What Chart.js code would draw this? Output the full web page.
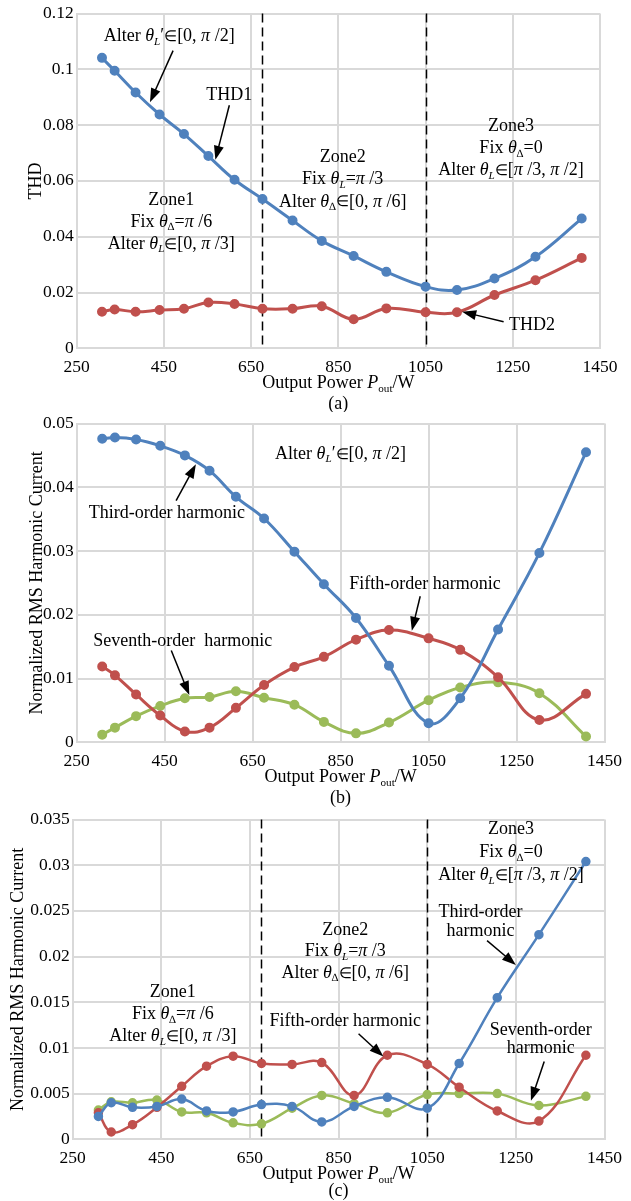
<!DOCTYPE html>
<html>
<head>
<meta charset="utf-8">
<script src="https://cdn.jsdelivr.net/npm/chart.js@4.4.0/dist/chart.umd.min.js"></script>
<style>
  body { margin: 0; background: #fff; width: 631px; height: 1201px; position: relative; overflow: hidden; }
  .box { position: absolute; left: 0; width: 631px; }
</style>
</head>
<body>
<div class="box" style="top:0;height:412px"><canvas id="chartA"></canvas></div>
<div class="box" style="top:410px;height:402px"><canvas id="chartB"></canvas></div>
<div class="box" style="top:806px;height:395px"><canvas id="chartC"></canvas></div>
<script>
// output power, W (same sweep for all three plots)
const power = [308, 337, 385, 440, 496, 552, 612, 676, 745, 812, 885, 960, 1050, 1122, 1208, 1302, 1408];

// (a) THD
const thd1 = [0.1041, 0.0995, 0.0917, 0.0838, 0.0768, 0.0689, 0.0604, 0.0535, 0.0458, 0.0385, 0.0331, 0.0274, 0.0221, 0.0209, 0.0250, 0.0328, 0.0465];
const thd2 = [0.0131, 0.0139, 0.0131, 0.0137, 0.0142, 0.0164, 0.0159, 0.0142, 0.0142, 0.0151, 0.0104, 0.0143, 0.0129, 0.0129, 0.0191, 0.0244, 0.0324];

// (b) alter theta_L'
const thirdB = [0.0476, 0.0478, 0.0475, 0.0465, 0.0450, 0.0426, 0.0385, 0.0351, 0.0299, 0.0248, 0.0195, 0.0120, 0.0030, 0.0069, 0.0177, 0.0297, 0.0455];
const fifthB = [0.0119, 0.0105, 0.0075, 0.0042, 0.0017, 0.0023, 0.0054, 0.0090, 0.0118, 0.0134, 0.0161, 0.0176, 0.0163, 0.0145, 0.0102, 0.0035, 0.0076];
const seventhB = [0.0012, 0.0023, 0.0041, 0.0057, 0.0069, 0.0071, 0.0080, 0.0070, 0.0059, 0.0032, 0.0014, 0.0031, 0.0066, 0.0086, 0.0094, 0.0077, 0.0009];

// (c) zones
const thirdC = [0.0025, 0.0040, 0.0035, 0.0036, 0.0044, 0.0031, 0.0030, 0.0038, 0.0036, 0.0019, 0.0036, 0.0046, 0.0034, 0.0083, 0.0155, 0.0224, 0.0304];
const fifthC = [0.0029, 0.0008, 0.0016, 0.0035, 0.0058, 0.0080, 0.0091, 0.0083, 0.0082, 0.0084, 0.0048, 0.0092, 0.0082, 0.0057, 0.0031, 0.0020, 0.0092];
const seventhC = [0.0032, 0.0041, 0.0040, 0.0043, 0.0030, 0.0029, 0.0018, 0.0017, 0.0034, 0.0048, 0.0039, 0.0029, 0.0049, 0.0050, 0.0050, 0.0037, 0.0047];

const xTicks = [250, 450, 650, 850, 1050, 1250, 1450];
const zoneBounds = [676, 1050];

const BLUE = '#4f81bd', RED = '#c0504d', GREEN = '#9bbb59', GRID = '#d9d9d9';
const FONT = '"Liberation Serif", "Times New Roman", serif';

// *x* italic, _x_ italic subscript, ^x^ upright subscript, ∈ drawn a bit smaller
const parse = (s) => s.split(/(\*[^*]+\*|_[^_]+_|\^[^^]+\^|∈)/).filter(Boolean).map(t => {
  if (t === '∈') return [t, 'm'];
  if (t[0] === '*') return [t.slice(1, -1), 'i'];
  if (t[0] === '_') return [t.slice(1, -1), 's'];
  if (t[0] === '^') return [t.slice(1, -1), 'u'];
  return [t, ''];
});

const fontOf = (st, size) => {
  if (st === 'm') return `${size * 0.82}px ${FONT}`;
  const sub = st === 's' || st === 'u';
  const it = st === 'i' || st === 's';
  return `${it ? 'italic ' : ''}${sub ? size * 0.62 : size}px ${FONT}`;
};

const drawRich = (ctx, text, x, y, size, align = 'center') => {
  const parts = parse(text);
  let w = 0;
  parts.forEach(([t, s]) => { ctx.font = fontOf(s, size); w += ctx.measureText(t).width; });
  let cx = align === 'center' ? x - w / 2 : align === 'right' ? x - w : x;
  ctx.textAlign = 'left';
  ctx.textBaseline = 'middle';
  parts.forEach(([t, s]) => {
    ctx.font = fontOf(s, size);
    const dy = (s === 's' || s === 'u') ? size * 0.3 : s === 'm' ? size * 0.04 : 0;
    ctx.fillText(t, cx, y + dy);
    cx += ctx.measureText(t).width;
  });
};

const arrow = (ctx, x1, y1, x2, y2) => {
  const a = Math.atan2(y2 - y1, x2 - x1), L = 14, W = 5;
  ctx.beginPath();
  ctx.moveTo(x1, y1);
  ctx.lineTo(x2 - L * 0.8 * Math.cos(a), y2 - L * 0.8 * Math.sin(a));
  ctx.stroke();
  ctx.beginPath();
  ctx.moveTo(x2, y2);
  ctx.lineTo(x2 - L * Math.cos(a) + W * Math.sin(a), y2 - L * Math.sin(a) - W * Math.cos(a));
  ctx.lineTo(x2 - L * Math.cos(a) - W * Math.sin(a), y2 - L * Math.sin(a) + W * Math.cos(a));
  ctx.closePath();
  ctx.fill();
};

const notesPlugin = {
  id: 'notes',
  beforeDatasetsDraw(chart) {
    const o = chart.options.plugins.notes;
    if (!o.zones) return;
    const { ctx, chartArea, scales } = chart;
    ctx.save();
    ctx.strokeStyle = '#000';
    ctx.lineWidth = 1.5;
    ctx.setLineDash([9, 5]);
    zoneBounds.forEach(v => {
      const px = Math.round(scales.x.getPixelForValue(v)) + 0.5;
      ctx.beginPath();
      ctx.moveTo(px, chartArea.top);
      ctx.lineTo(px, chartArea.bottom);
      ctx.stroke();
    });
    ctx.restore();
  },
  afterDatasetsDraw(chart) {
    const o = chart.options.plugins.notes;
    const { ctx, chartArea, scales } = chart;
    const X = v => scales.x.getPixelForValue(v), Y = v => scales.y.getPixelForValue(v);
    ctx.save();
    ctx.fillStyle = '#000';
    ctx.strokeStyle = '#000';
    ctx.lineWidth = 1.5;
    o.texts.forEach(t => {
      t.lines.forEach((line, i) => drawRich(ctx, line, X(t.x), Y(t.y) + i * (t.gap || 22), 18, t.align));
    });
    o.arrows.forEach(a => arrow(ctx, X(a[0]), Y(a[1]), X(a[2]), Y(a[3])));
    const mid = (chartArea.left + chartArea.right) / 2;
    drawRich(ctx, 'Output Power *P*^out^/W', mid, chartArea.bottom + 35, 18);
    drawRich(ctx, o.caption, mid, chartArea.bottom + o.captionGap, 18);
    ctx.translate(o.yTitleX, (chartArea.top + chartArea.bottom) / 2);
    ctx.rotate(-Math.PI / 2);
    drawRich(ctx, o.yTitle, 0, 0, 18);
    ctx.restore();
  }
};

const makeChart = (id, cfg) => new Chart(document.getElementById(id), {
  type: 'line',
  data: {
    datasets: cfg.series.map(s => ({
      data: power.map((x, i) => ({ x, y: s.values[i] })),
      borderColor: s.color,
      backgroundColor: s.color,
      borderWidth: cfg.lineWidth,
      pointRadius: 3.5,
      pointHoverRadius: 3.5,
      tension: 0.4
    }))
  },
  options: {
    responsive: true,
    maintainAspectRatio: false,
    animation: false,
    layout: { padding: { top: cfg.area.top, right: 631 - cfg.area.right, left: 0, bottom: 0 } },
    plugins: {
      legend: { display: false },
      tooltip: { enabled: false },
      notes: cfg.notes
    },
    scales: {
      x: {
        type: 'linear', min: 250, max: 1450,
        afterBuildTicks: s => { s.ticks = xTicks.map(v => ({ value: v })); },
        ticks: {
          autoSkip: false, maxRotation: 0, padding: 9, color: '#000', font: { family: FONT, size: 17.5 },
          callback: v => String(v)
        },
        grid: { color: GRID, lineWidth: 2, drawTicks: false },
        border: { color: GRID, width: 2 },
        afterFit: s => { s.height = cfg.height - cfg.area.bottom; }
      },
      y: {
        min: 0, max: cfg.yMax,
        ticks: {
          stepSize: cfg.yStep, padding: 3, color: '#000', font: { family: FONT, size: 17.5 },
          callback: v => String(+v.toFixed(3))
        },
        grid: { color: GRID, lineWidth: 2, drawTicks: false },
        border: { color: GRID, width: 2 },
        afterFit: s => { s.width = cfg.area.left; }
      }
    }
  },
  plugins: [notesPlugin]
});

makeChart('chartA', {
  height: 412, area: { top: 12.7, bottom: 348.3, left: 76.7, right: 600 },
  yMax: 0.12, yStep: 0.02, lineWidth: 3,
  series: [{ values: thd1, color: BLUE }, { values: thd2, color: RED }],
  notes: {
    zones: true, caption: '(a)', captionGap: 56, yTitle: 'THD', yTitleX: 36,
    texts: [
      { x: 462, y: 0.1118, lines: ['Alter *θ*_L_′∈[0, *π* /2]'] },
      { x: 600, y: 0.0906, lines: ['THD1'] },
      { x: 467, y: 0.0531, lines: ['Zone1', 'Fix *θ*^∆^=*π* /6', 'Alter *θ*_L_∈[0, *π* /3]'] },
      { x: 860, y: 0.0686, gap: 22.5, lines: ['Zone2', 'Fix *θ*_L_=*π* /3', 'Alter *θ*^∆^∈[0, *π* /6]'] },
      { x: 1246, y: 0.0795, lines: ['Zone3', 'Fix *θ*^∆^=0', 'Alter *θ*_L_∈[*π* /3, *π* /2]'] },
      { x: 1294, y: 0.0083, lines: ['THD2'] }
    ],
    arrows: [
      [471, 0.1067, 418, 0.0882],
      [600, 0.0871, 568, 0.0676],
      [1229, 0.0095, 1134, 0.0131]
    ]
  }
});

makeChart('chartB', {
  height: 402, area: { top: 10.7, bottom: 332.3, left: 76.7, right: 607 },
  yMax: 0.05, yStep: 0.01, lineWidth: 3,
  series: [{ values: thirdB, color: BLUE }, { values: fifthB, color: RED }, { values: seventhB, color: GREEN }],
  notes: {
    zones: false, caption: '(b)', captionGap: 56, yTitle: 'Normalized RMS Harmonic Current', yTitleX: 37,
    texts: [
      { x: 850, y: 0.0452, lines: ['Alter *θ*_L_′∈[0, *π* /2]'] },
      { x: 455, y: 0.0359, lines: ['Third-order harmonic'] },
      { x: 491, y: 0.0159, lines: ['Seventh-order  harmonic'] },
      { x: 1042, y: 0.0248, lines: ['Fifth-order harmonic'] }
    ],
    arrows: [
      [476, 0.0379, 521, 0.0436],
      [465, 0.0144, 506, 0.0074],
      [1031, 0.0229, 1012, 0.0175]
    ]
  }
});

makeChart('chartC', {
  height: 395, area: { top: 7.3, bottom: 333.3, left: 72.7, right: 607.3 },
  yMax: 0.035, yStep: 0.005, lineWidth: 2.5,
  series: [{ values: thirdC, color: BLUE }, { values: fifthC, color: RED }, { values: seventhC, color: GREEN }],
  notes: {
    zones: true, caption: '(c)', captionGap: 52, yTitle: 'Normalized RMS Harmonic Current', yTitleX: 18,
    texts: [
      { x: 476, y: 0.0161, lines: ['Zone1', 'Fix *θ*^∆^=*π* /6', 'Alter *θ*_L_∈[0, *π* /3]'] },
      { x: 865, y: 0.0229, gap: 21.5, lines: ['Zone2', 'Fix *θ*_L_=*π* /3', 'Alter *θ*^∆^∈[0, *π* /6]'] },
      { x: 1239, y: 0.0339, gap: 23, lines: ['Zone3', 'Fix *θ*^∆^=0', 'Alter *θ*_L_∈[*π* /3, *π* /2]'] },
      { x: 865, y: 0.0129, lines: ['Fifth-order harmonic'] },
      { x: 1170, y: 0.0248, gap: 18.5, lines: ['Third-order', 'harmonic'] },
      { x: 1306, y: 0.0119, gap: 17.5, lines: ['Seventh-order', 'harmonic'] }
    ],
    arrows: [
      [895, 0.01155, 951, 0.00905],
      [1185, 0.02175, 1250, 0.01907],
      [1314, 0.00851, 1284, 0.00421]
    ]
  }
});
</script>
</body>
</html>
